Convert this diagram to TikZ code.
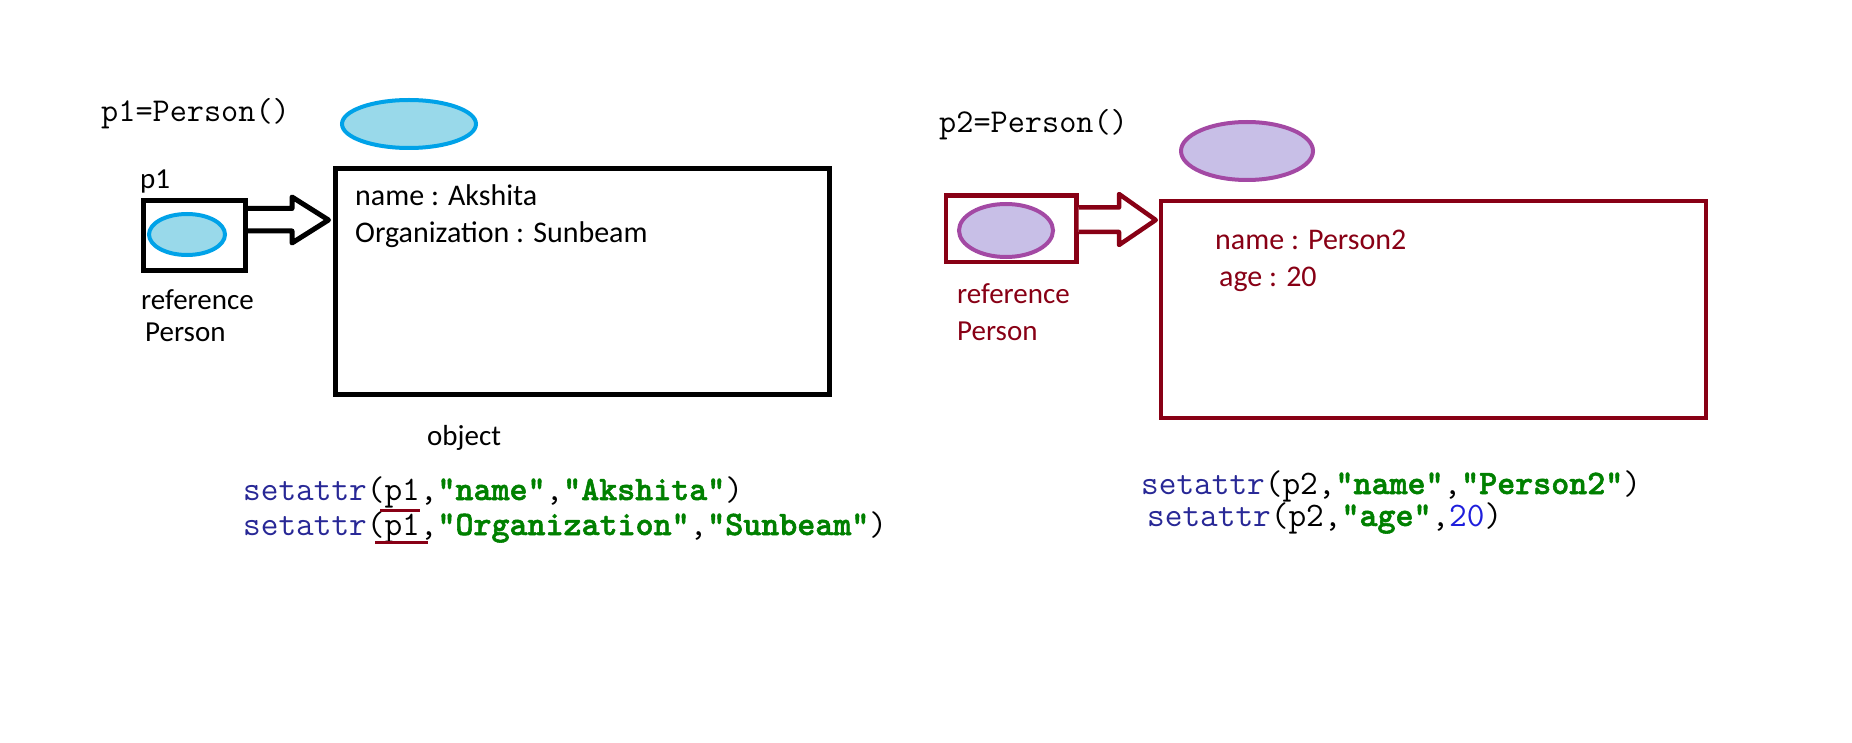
\documentclass[tikz,border=0pt]{standalone}
\usepackage{fontspec}
\setmainfont{Carlito}
\newfontfamily\strfont{lmmonolt10-bold.otf}[FakeBold=1.6]
\usepackage{xcolor}
\usetikzlibrary{shapes.geometric,calc,positioning}
\definecolor{paintblue}{RGB}{0,162,232}
\definecolor{turq}{RGB}{153,217,234}
\definecolor{darkred}{RGB}{136,0,21}
\definecolor{lavender}{RGB}{200,191,231}
\definecolor{plum}{RGB}{163,73,164}
\definecolor{kwblue}{RGB}{40,40,150}
\definecolor{strgreen}{RGB}{0,128,0}
\definecolor{numblue}{RGB}{30,30,220}
\tikzset{%
  % Specifications for style of nodes:
      box/.style = {rectangle, draw, fill=white, inner sep=0pt},
  refbox/.style = {box, line width=5pt},
  objbox/.style = {box, line width=5pt},
     obj/.style = {ellipse, inner sep=0pt, line width=4pt},
   blueobj/.style = {obj, draw=paintblue, fill=turq},
 purpleobj/.style = {obj, draw=plum, fill=lavender},
    label/.style = {anchor=base west, inner sep=0pt, font=\fontsize{29}{32}\selectfont},
  boxtext/.style = {anchor=base west, inner sep=0pt, font=\fontsize{30}{36}\selectfont},
     code/.style = {anchor=base west, inner sep=0pt, font=\ttfamily\fontsize{34.3}{38}\selectfont},
  codetop/.style = {code, font=\ttfamily\fontsize{33.3}{36}\selectfont},
 blockarrow/.style = {draw, fill=white, line width=5pt, line join=round},
  markline/.style = {draw=darkred, line width=3pt},
}
\newcommand{\pystr}[1]{\textcolor{strgreen}{\strfont #1}}
\newcommand{\pykw}[1]{\textcolor{kwblue}{#1}}
\begin{document}
\begin{tikzpicture}[x=1pt, y=-1pt]
  \useasboundingbox (0,0) rectangle (1852,743);
  % Specification of nodes (position, etc.)
  % first object
  \node (new1) [codetop] at (101,122) {p1=Person()};
  \node (top1) [blueobj, minimum width=134pt, minimum height=48pt] at (409,124) {};
  \node (obj1) [objbox, minimum width=494pt, minimum height=226pt] at (582,281.5) {};
  \node (ref1) [refbox, minimum width=102pt, minimum height=70pt] at (194.5,235.5) {};
  \node (dot1) [blueobj, minimum width=76pt, minimum height=41pt] at (187,234.5) {};
  \node (p1) [label] at (140,189) {p1};
  \node (reflabel1) [label] at (141,309) {reference};
  \node (cls1) [label] at (145,341) {Person};
  \node (name1) [boxtext] at (355,206) {name : Akshita};
  \node (org1) [boxtext] at (355,243) {Organization : Sunbeam};
  \node (objlabel) [label] at (427,445) {object};
  \node (set1a) [code] at (243,500) {\pykw{setattr}(p1,\pystr{"name"},\pystr{"Akshita"})};
  \node (set1b) [code] at (243,535) {\pykw{setattr}(p1,\pystr{"Organization"},\pystr{"Sunbeam"})};
  % second object
  \node (new2) [codetop] at (939,133) {p2=Person()};
  \node (top2) [purpleobj, minimum width=132pt, minimum height=58pt] at (1247,151) {};
  \node (obj2) [objbox, draw=darkred, line width=4.5pt, minimum width=545pt, minimum height=217pt] at (1433.5,309.5) {};
  \node (ref2) [refbox, draw=darkred, line width=4.5pt, minimum width=130.5pt, minimum height=66.5pt] at (1011,229) {};
  \node (dot2) [purpleobj, minimum width=94pt, minimum height=53pt] at (1006,230.5) {};
  \node (reflabel2) [label, text=darkred] at (957,303) {reference};
  \node (cls2) [label, text=darkred] at (957,340) {Person};
  \node (name2) [boxtext, text=darkred] at (1215,250) {name : Person2};
  \node (age2) [boxtext, text=darkred] at (1219,287) {age : 20};
  \node (set2a) [code] at (1141,494) {\pykw{setattr}(p2,\pystr{"name"},\pystr{"Person2"})};
  \node (set2b) [code] at (1147,526) {\pykw{setattr}(p2,\pystr{"age"},\textcolor{numblue}{20})};
  % Specification of arrows between nodes specified above
  \draw[blockarrow] ($(ref1.east)+(0,-27)$) -- ++(44,0) -- ++(0,-11.5)
    -- ($(obj1.west)+(-4,-61.5)$) -- ($(ref1.east)+(44,7.5)$) -- ++(0,-12)
    -- ($(ref1.east)+(0,-4.5)$);
  \draw[blockarrow, draw=darkred, line width=4.5pt] ($(ref2.east)+(0,-21.5)$) -- ++(40.5,0) -- ++(0,-13.5)
    -- ($(obj2.west)+(-3,-89.5)$) -- ($(ref2.east)+(40.5,16)$) -- ++(0,-13)
    -- ($(ref2.east)+(0,3)$);
  % marks round p1
  \draw[markline] (380,510.5) -- (420,510.5);
  \draw[markline] (375,542.5) -- (428,542.5);
\end{tikzpicture}
\end{document}
